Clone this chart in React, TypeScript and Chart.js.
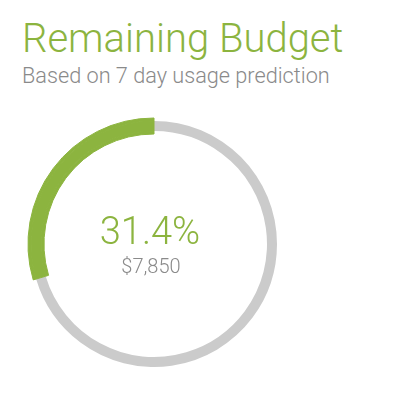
import React, { useEffect, useRef } from "react";
import { Chart, registerables } from "chart.js";

Chart.register(...registerables);

const titleText = "Remaining Budget";
const subtitleText = "Based on 7 day usage prediction";
const segmentLabels = ["Spent / predicted", "Remaining"];
const centerPctLabel = "31.4%";
const remainingAmount = "$7,850";
// arc share as drawn in the picture
const arcRemaining = 29.6;
const arcOther = 70.4;

const GREEN = "#8cb43f";
const GRAY = "#cbcbcb";
const TEXT_GRAY = "#8a8a8a";

export default function App() {
  const ref = useRef<HTMLCanvasElement | null>(null);

  useEffect(() => {
    if (!ref.current) return;
    const values = [arcOther, arcRemaining];
    const chart = new Chart(ref.current, {
      type: "doughnut",
      data: {
        labels: segmentLabels,
        datasets: [
          {
            data: values,
            backgroundColor: ["rgba(0,0,0,0)", GREEN],
            borderWidth: [0, 1],
            borderColor: GREEN,
            weight: 3,
          },
          {
            data: values,
            backgroundColor: [GRAY, GREEN],
            borderWidth: [0, 1],
            borderColor: GREEN,
            weight: 10,
          },
          {
            data: values,
            backgroundColor: ["rgba(0,0,0,0)", GREEN],
            borderWidth: [0, 1],
            borderColor: GREEN,
            weight: 3,
          },
        ],
      },
      options: {
        responsive: false,
        animation: false,
        radius: 126,
        cutout: `${(110 / 126) * 100}%`,
        layout: { padding: 0 },
        plugins: {
          legend: { display: false },
          tooltip: { enabled: false },
          title: { display: false },
        },
        events: [],
      } as any,
    });
    return () => chart.destroy();
  }, []);

  const font = "Roboto, 'Noto Sans', sans-serif";

  return (
    <div
      style={{
        position: "absolute",
        left: 0,
        top: 0,
        width: 411,
        height: 401,
        background: "#fff",
        fontFamily: font,
        fontWeight: 300,
      }}
    >
      <div
        style={{
          position: "absolute",
          left: 22,
          top: 19,
          fontSize: 40,
          lineHeight: "40px",
          color: GREEN,
          whiteSpace: "nowrap",
        }}
      >
        {titleText}
      </div>
      <div
        style={{
          position: "absolute",
          left: 22,
          top: 65,
          fontSize: 21.7,
          lineHeight: "21.7px",
          color: TEXT_GRAY,
          whiteSpace: "nowrap",
        }}
      >
        {subtitleText}
      </div>
      <canvas
        ref={ref}
        width={308}
        height={288}
        style={{ position: "absolute", left: 0, top: 100, width: 308, height: 288 }}
      />
      <div
        style={{
          position: "absolute",
          left: 50,
          width: 200,
          top: 212,
          textAlign: "center",
          fontSize: 38,
          lineHeight: "38px",
          color: GREEN,
        }}
      >
        {centerPctLabel}
      </div>
      <div
        style={{
          position: "absolute",
          left: 51,
          width: 200,
          top: 256,
          textAlign: "center",
          fontSize: 20,
          lineHeight: "20px",
          color: TEXT_GRAY,
        }}
      >
        {remainingAmount}
      </div>
    </div>
  );
}
